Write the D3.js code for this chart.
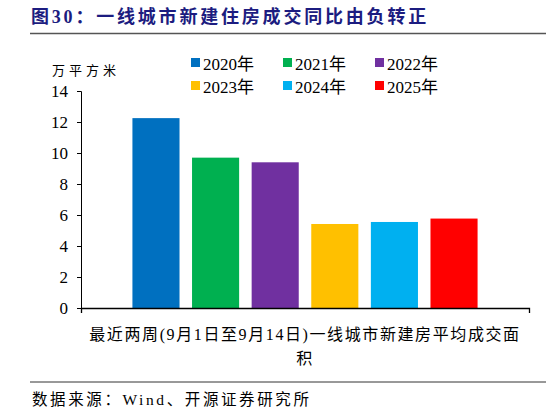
<!DOCTYPE html>
<html>
<head>
<meta charset="utf-8">
<script src="https://cdn.jsdelivr.net/npm/d3@7"></script>
<style>
  body { margin: 0; background: #fff; }
  text { font-family: "Liberation Serif", "Noto Sans CJK SC", serif; fill: #000; }
</style>
</head>
<body>
<div id="chart"></div>
<script>
// chart data
var categories = ["最近两周(9月1日至9月14日)一线城市新建房平均成交面积"];
var years = ["2020年", "2021年", "2022年", "2023年", "2024年", "2025年"];
var values = [12.25, 9.7, 9.4, 5.42, 5.55, 5.77];
var colors = ["#0070c0", "#00b050", "#7030a0", "#ffc000", "#00b0f0", "#ff0000"];
var yTicks = [0, 2, 4, 6, 8, 10, 12, 14];

var W = 546, H = 408;
var margin = {top: 91, right: 17, bottom: 100, left: 81},
    width = W - margin.left - margin.right,
    height = H - margin.top - margin.bottom;

var svg = d3.select("#chart").append("svg")
    .attr("width", W)
    .attr("height", H);

// title + rules
svg.append("text")
    .attr("x", 31).attr("y", 23)
    .style("font-size", "18px")
    .style("font-weight", "bold")
    .style("letter-spacing", "2.8px")
    .style("fill", "#1c1c80")
    .text("图30：一线城市新建住房成交同比由负转正");

svg.append("line")
    .attr("x1", 30).attr("x2", W).attr("y1", 33.5).attr("y2", 33.5)
    .attr("stroke", "#555").attr("stroke-width", 1.5);

svg.append("line")
    .attr("x1", 30).attr("x2", W).attr("y1", 382).attr("y2", 382)
    .attr("stroke", "#333").attr("stroke-width", 1);

svg.append("text")
    .attr("x", 32).attr("y", 405)
    .style("font-size", "15.5px")
    .style("letter-spacing", "2.6px")
    .text("数据来源：Wind、开源证券研究所");

var plot = svg.append("g")
    .attr("transform", "translate(" + margin.left + "," + margin.top + ")");

// scales
var x0 = d3.scaleBand().domain(categories).range([0, width]).paddingInner(0).paddingOuter(0.149);
var x1 = d3.scaleBand().domain(years).range([0, x0.bandwidth()]).paddingInner(0.21).paddingOuter(0);
var y = d3.scaleLinear().domain([0, 14]).range([height, 0]);

// bars
var group = plot.selectAll(".grp")
    .data(categories)
    .enter().append("g")
    .attr("transform", function(d) { return "translate(" + x0(d) + ",0)"; });

group.selectAll("rect")
    .data(values)
    .enter().append("rect")
    .attr("x", function(d, i) { return x1(years[i]); })
    .attr("width", x1.bandwidth())
    .attr("y", function(d) { return y(d); })
    .attr("height", function(d) { return height - y(d); })
    .attr("fill", function(d, i) { return colors[i]; });

// y axis
var yAxis = plot.append("g")
    .call(d3.axisLeft(y).tickValues(yTicks).tickSize(4).tickSizeOuter(4));
yAxis.selectAll("text").style("font-size", "17px").attr("x", -13);
yAxis.selectAll("line, path").attr("stroke", "#000");

// x axis
var xAxis = plot.append("g")
    .attr("transform", "translate(0," + height + ")")
    .call(d3.axisBottom(d3.scaleLinear().range([0, width])).tickValues([]).tickSizeOuter(5));
xAxis.select("path").attr("stroke", "#000").attr("stroke-width", 1.3);

// x label, wrapped
var label = plot.append("text")
    .attr("text-anchor", "middle")
    .style("font-size", "16px")
    .style("letter-spacing", "1.6px");

function wrap(str, maxW) {
  var probe = svg.append("text").style("font-size", "16px").style("letter-spacing", "1.6px");
  var lines = [], cur = "";
  Array.from(str).forEach(function(ch) {
    probe.text(cur + ch);
    if (probe.node().getComputedTextLength() > maxW && cur) {
      lines.push(cur); cur = ch;
    } else cur += ch;
  });
  lines.push(cur);
  probe.remove();
  return lines;
}

wrap(categories[0], 445).forEach(function(line, i) {
  label.append("tspan")
    .attr("x", width / 2)
    .attr("y", height + 32 + i * 24)
    .text(line);
});

// unit
svg.append("text")
    .attr("x", 52).attr("y", 75)
    .style("font-size", "13px")
    .style("letter-spacing", "4px")
    .text("万平方米");

// legend
var legend = svg.append("g");
years.forEach(function(yr, i) {
  var col = i % 3, row = Math.floor(i / 3);
  var lx = 191 + col * 92, ly = 58 + row * 23;
  legend.append("rect")
      .attr("x", lx).attr("y", ly).attr("width", 9).attr("height", 9)
      .attr("fill", colors[i]);
  legend.append("text")
      .attr("x", lx + 12).attr("y", ly + 12)
      .style("font-size", "17px")
      .text(yr);
});
</script>
</body>
</html>
